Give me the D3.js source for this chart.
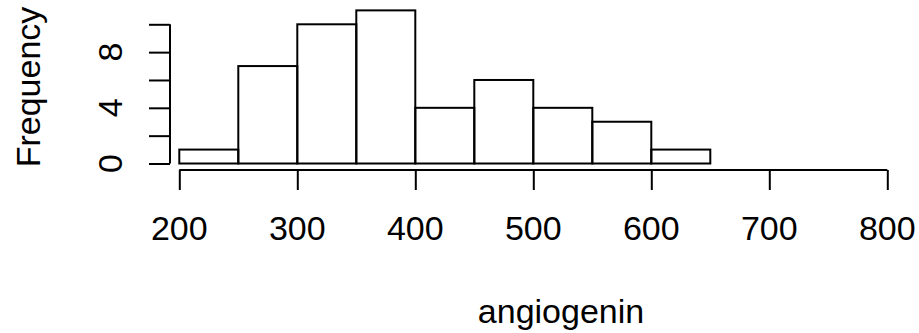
<!DOCTYPE html>
<html><head><meta charset="utf-8">
<script src="https://cdn.jsdelivr.net/npm/d3@7"></script>
<style>html,body{margin:0;padding:0;background:#fff;}svg{display:block;}</style>
</head><body>
<svg id="chart" width="919" height="333"></svg>
<script>
const binStarts = [200, 250, 300, 350, 400, 450, 500, 550, 600];
const binWidth = 50;
const counts = [1, 7, 10, 11, 4, 6, 4, 3, 1];
const xTicks = [200, 300, 400, 500, 600, 700, 800];
const yTicks = [0, 2, 4, 6, 8, 10];
const yTickLabels = [0, 4, 8];
const xTitle = "angiogenin";
const yTitle = "Frequency";

const svg = d3.select("#chart");
const x = d3.scaleLinear().domain([200, 800]).range([179.3, 887.3]);
const y = d3.scaleLinear().domain([0, 10]).range([163.5, 24.3]);
const font = "'Liberation Sans', Arial, Helvetica, sans-serif";
const fs = 34;

svg.append("g").selectAll("rect").data(counts).join("rect")
  .attr("x", (d, i) => x(binStarts[i]))
  .attr("y", d => y(d))
  .attr("width", (d, i) => x(binStarts[i] + binWidth) - x(binStarts[i]))
  .attr("height", d => y(0) - y(d))
  .attr("fill", "none").attr("stroke", "#000").attr("stroke-width", 2);

const xAxisY = 170;
const gx = svg.append("g").attr("transform", `translate(0,${xAxisY})`)
  .call(d3.axisBottom(x).tickValues(xTicks).tickSize(20).tickFormat(""));
gx.select(".domain").attr("d", `M${x(200)},0H${x(800)}`);
gx.selectAll("path,line").attr("stroke", "#000").attr("stroke-width", 2);

const yAxisX = 170;
const gy = svg.append("g").attr("transform", `translate(${yAxisX},0)`)
  .call(d3.axisLeft(y).tickValues(yTicks).tickSize(21).tickFormat(""));
gy.select(".domain").attr("d", `M0,${y(0)}V${y(10)}`);
gy.selectAll("path,line").attr("stroke", "#000").attr("stroke-width", 2);

svg.append("g").selectAll("text").data(xTicks).join("text")
  .attr("transform", d => `translate(${x(d)},240)`)
  .attr("text-anchor", "middle").attr("font-family", font).attr("font-size", fs)
  .text(d => d);

svg.append("g").selectAll("text").data(yTickLabels).join("text")
  .attr("transform", d => `translate(122,${y(d)}) rotate(-90)`)
  .attr("text-anchor", "middle").attr("font-family", font).attr("font-size", fs)
  .text(d => d);

svg.append("text")
  .attr("transform", `translate(561,323)`)
  .attr("text-anchor", "middle").attr("font-family", font).attr("font-size", fs)
  .text(xTitle);

svg.append("text")
  .attr("transform", `translate(40,87) rotate(-90)`)
  .attr("text-anchor", "middle").attr("font-family", font).attr("font-size", fs)
  .text(yTitle);
</script>
</body></html>
